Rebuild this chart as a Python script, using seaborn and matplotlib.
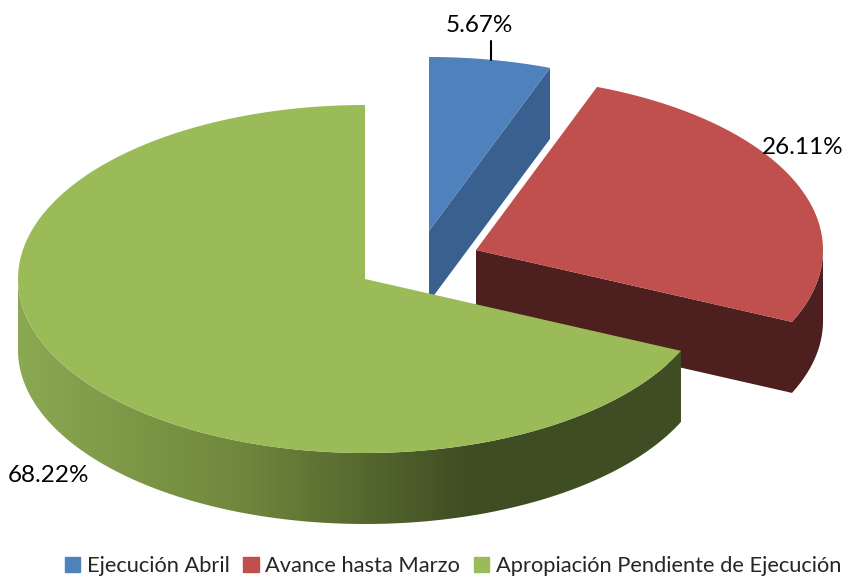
"""3D style pie: budget execution shares."""
import numpy as np
import seaborn as sns
import matplotlib
matplotlib.use('Agg')
import matplotlib.pyplot as plt
from matplotlib.patches import Patch, Polygon

# data
labels = ["Ejecución Abril", "Avance hasta Marzo", "Apropiación Pendiente de Ejecución"]
values = [5.67, 26.11, 68.22]

# styling
top_colors = ["#4F81BD", "#C0504D", "#9BBB59"]
face_colors = ["#3A6090", "#4D1F1E", "#3F4D23"]
centers = [(429, 231), (476, 250), (365, 279)]
label_pos = [(479, 26), (803, 147), (49, 475)]
RX, RY, DEPTH = 347, 174, 71

sns.set_theme(style="white")
plt.rcParams['font.family'] = ['Lato', 'DejaVu Sans']

fig, ax = plt.subplots(figsize=(8.45, 5.77), dpi=100)
ax.set_position([0, 0, 1, 1])
ax.axis("off")

# green wall fades from left to right, then stays dark
wall_ramp = sns.blend_palette(["#8BA852", "#6F873C", "#3F4D23"], n_colors=452)
wall_ramp = list(wall_ramp) + [wall_ramp[-1]] * 212


def edge(cx, cy, deg):
    rad = np.radians(deg)
    return cx + RX * np.sin(rad), cy - RY * np.cos(rad)


edges = np.cumsum([0] + values) * 3.6
z = 1
for i in range(len(values)):
    cx, cy = centers[i]
    start, end = edges[i], edges[i + 1]

    # flat cut face on the clockwise side
    ex, ey = edge(cx, cy, end)
    ax.fill([cx, ex, ex, cx], [cy, ey, ey + DEPTH, cy + DEPTH],
            color=face_colors[i], lw=0, zorder=z)

    # outer wall, front half only
    lo, hi = max(start, 90), min(end, 270)
    if hi > lo:
        xs, ys = edge(cx, cy, np.linspace(lo, hi, 300))
        outline = np.c_[np.r_[xs, xs[::-1]], np.r_[ys, ys[::-1] + DEPTH]]
        if i == 2:
            grad = np.array(wall_ramp)[None, :, :]
            img = ax.imshow(grad, extent=(18, 682, 577, 0), aspect="auto", zorder=z,
                            interpolation="bilinear")
            img.set_clip_path(Polygon(outline, transform=ax.transData))
        else:
            ax.fill(outline[:, 0], outline[:, 1], color=face_colors[i], lw=0, zorder=z)

    # top of the slice
    t = np.linspace(start, end, 300)
    xs, ys = edge(cx, cy, t)
    ax.fill(np.r_[cx, xs], np.r_[cy, ys], color=top_colors[i], lw=0, zorder=z + 1)
    z += 2

ax.set_xlim(0, 845)
ax.set_ylim(577, 0)

# value labels
for v, (x, y) in zip(values, label_pos):
    ax.text(x, y, f"{v:.2f}%", ha="center", va="center", fontsize=17.5,
            color="black", zorder=20)
ax.plot([491, 491], [41, 60], color="black", lw=1.5, zorder=20)

handles = [Patch(color=c, label=l) for c, l in zip(top_colors, labels)]
ax.legend(handles=handles, loc="center", bbox_to_anchor=(453 / 845, 1 - 566 / 577),
          ncol=3, frameon=False, fontsize=15.75, handlelength=0.7, handleheight=0.7,
          handletextpad=0.3, columnspacing=0.62, borderpad=0, borderaxespad=0)

plt.savefig("out.png", dpi=100)
plt.close()
